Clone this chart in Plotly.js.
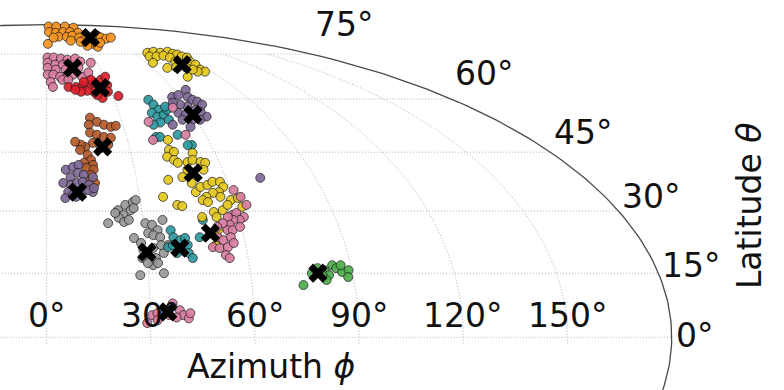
<!DOCTYPE html>
<html>
<head>
<meta charset="utf-8">
<script src="https://cdn.plot.ly/plotly-3.0.1.min.js"></script>
<style>
  html, body { margin: 0; padding: 0; background: #fff; }
  #chart { width: 784px; height: 390px; }
</style>
</head>
<body>
<div id="chart"></div>
<script>
// Tick values in degrees
const azimuthTicks = [0, 30, 60, 90, 120, 150];
const latitudeTicks = [0, 15, 30, 45, 60, 75];

// Cluster members: azimuth phi and latitude theta, degrees
const orangeAz  = [5, 25, 48, 56, 3, 11.5, 22, 31, 40, 43, 12.5, 21, 28, 33, 22, 35.5, 55.5, 55, 58, 65, 38.5, 40, 32.5, 1, 30, 7, 46];
const orangeLat = [88.1, 88.1, 88.1, 87.3, 84.7, 84.3, 84.7, 84.7, 84.3, 83, 82.3, 82.3, 82.8, 81.9, 80.5, 80.9, 82.8, 81.9, 81.4, 81.9, 79.1, 77.9, 78.3, 79.1, 80, 81.9, 79.6];

const pinkTopAz  = [0.5, 4.5, 9, 13, 18, 20.5, 0.5, 5, 9.5, 0.5, 5, 10.5, 18, 0.5, 3.5, 7, 11, 14, 18.5, 22.5, 23, 2, 3, 8, 11, 19, 26.5];
const pinkTopLat = [73.7, 73.7, 73.3, 72.9, 73.3, 72.2, 71.8, 71.1, 71.1, 70, 69.4, 69.4, 70, 67.7, 67.7, 67, 67, 67.7, 67, 68.4, 65.3, 65.3, 63.7, 66, 66, 65, 71.8];

const redAz  = [10.5, 14, 17.5, 20.5, 24, 27.5, 30.5, 29.5, 25.5, 22, 19, 16, 13.5, 25, 23, 32.5, 22.5, 18.5, 28.5];
const redLat = [63.7, 63.7, 64, 64.3, 65, 66, 67, 64.3, 62.8, 62.2, 62.5, 62.2, 62.8, 60.3, 61.2, 60.9, 66, 65.3, 62.2];

const yellowTopAz  = [70, 75.5, 79, 85.5, 86, 88, 88.5, 90.5, 87.5, 87.5, 85.5, 86.5, 67.5, 72, 77.5, 79.5, 78.5, 68.5, 78.5, 79.5, 73.5, 82.5, 81.5, 64, 74];
const yellowTopLat = [75.5, 75.9, 75.5, 75.9, 75.1, 74.8, 74.1, 73.7, 72.2, 71.1, 69.4, 68.7, 74.1, 74.1, 74.4, 73.7, 72.2, 70, 71.1, 70.2, 67, 68.7, 69.4, 71.8, 70.2];

const purpleTopAz  = [56.5, 60, 65.5, 63.5, 64.5, 66, 67, 65, 64, 62.5, 60, 57.5, 55, 54.5, 57, 58.5, 61.5, 54.5, 49.5, 56, 71.5];
const purpleTopLat = [60.6, 61.2, 62.8, 60.6, 59.75, 59.2, 58.3, 54.8, 56.2, 56.8, 57.7, 58.3, 58.9, 55.9, 55.35, 53.9, 53.9, 53.9, 52.5, 51.9, 38.3];

const tealTopAz  = [45, 46, 47, 43.5, 45, 48, 50.5, 45, 42, 49, 50.5, 41, 42.5, 49.5, 53, 51.5];
const tealTopLat = [59.75, 58.3, 56.8, 55.9, 54.8, 55.35, 56.8, 53.1, 52.5, 53.9, 57.7, 49.1, 49.1, 49.7, 46.9, 46.9];

const brownAz  = [17.5, 20, 22.5, 25, 27, 16.5, 16.5, 19, 21.5, 24, 22.5, 19.5, 17, 14, 12.5, 10.5, 12, 14.5, 15.5, 16, 13, 13.5, 16, 15, 14, 16];
const brownLat = [54.5, 53.3, 52.5, 51.9, 52.2, 52.5, 50.3, 49.7, 49.1, 48.9, 47, 46.1, 47.5, 46.4, 47, 47.8, 45.6, 44.3, 42.95, 41.65, 42.2, 40.9, 40.4, 39.1, 37.3, 37];

const purpleLeftAz  = [6.5, 9, 11, 8, 10.5, 12.5, 5.5, 8, 10, 12, 14, 15.5, 15, 7, 6, 8.5, 11.5, 13.5, 9.5, 15.5];
const purpleLeftLat = [40.4, 41.1, 41.65, 38.5, 39.6, 39.1, 37, 36.5, 37, 37.3, 36.5, 38.5, 34.7, 34.7, 33.2, 34, 34.5, 35.2, 33.5, 35.7];

const yellowAz  = [45, 44, 45.5, 42.5, 44.5, 45.5, 49, 52, 51, 53.5, 55, 53.5, 48, 45.5, 40.5, 48, 48.5, 50.5, 53, 55, 57.5, 58, 56, 54, 51.5, 50, 51.5, 56, 59, 61.5, 62, 41.5, 43, 37.5, 52.5, 53, 55.5, 57.5, 48.5, 52.5, 51];
const yellowLat = [48.3, 45.6, 45.1, 43.8, 42.95, 42.2, 42.4, 44.8, 42.95, 42.4, 42.2, 40.4, 40.4, 38.5, 37.8, 37, 34.7, 36, 36.5, 37.3, 37.3, 36, 34.7, 34.5, 33.5, 32.7, 32.2, 33.5, 32.7, 33.2, 31, 31.5, 31.2, 33.5, 29.75, 28.5, 30.2, 31.5, 28.5, 25.3, 21.7];

const pinkAz  = [61, 62.5, 63.5, 58, 59.5, 61.5, 60, 58, 56.5, 56.5, 54.5, 52.5, 55.5, 57, 59.5, 52, 53.5, 56, 50, 52, 54.5, 56.5, 53.5, 54.5, 40.5, 53.5, 39.5, 52.5];
const pinkLat = [35.2, 33.5, 31.5, 29, 29.5, 28.5, 27.8, 27.8, 28.5, 26.6, 27, 26.1, 25.3, 25.3, 26.1, 23.6, 22.9, 23.6, 21.2, 21, 21.2, 22.2, 19.3, 18.6, 53.3, 57.4, 48.3, 49.7];

const tealAz  = [38, 38.5, 40.5, 42, 42.5, 40.5, 39, 42.5, 43.5, 36.5, 38, 48.5, 46.5];
const tealLat = [25.3, 23.6, 22.9, 23.4, 21.7, 20.5, 19.8, 19.8, 18.6, 21.2, 21.7, 27.8, 23.6];

const greyAz  = [22.5, 25, 27.5, 28.5, 26.5, 24, 22.5, 24, 25.5, 19, 27.5, 21.5, 30.5, 32.5, 34, 31, 32.5, 34.5, 36, 36.5, 35, 26.5, 28.5, 29, 32, 34.5, 32.5, 28.5, 27.5, 31.5, 34.5, 33, 30];
const greyLat = [30.2, 31.5, 32.2, 32.7, 30.2, 29, 28.3, 27.3, 27.8, 27, 30.7, 29.5, 27, 26.6, 25.3, 24.6, 24.1, 23.6, 27.8, 21.7, 19.8, 23.4, 22.2, 20.5, 21, 21.7, 18.6, 18.6, 14.55, 16.9, 15, 17.4, 17.4];

const greenAz  = [78, 80, 82, 84.5, 85.5, 87, 89, 88.5, 83, 82, 75, 81, 87];
const greenLat = [15, 16.2, 15.7, 16.9, 16.2, 15.3, 15.7, 14.1, 14.55, 13.4, 12.2, 14.55, 16.9];

const pinkLowAz  = [30.5, 29, 32, 34.5, 36.5, 38.5, 39.5, 41, 41.5, 37.5, 35.5, 32];
const pinkLowLat = [5.15, 3.3, 5.6, 6.3, 7.9, 6.3, 5.15, 4.4, 5.6, 4.6, 5.15, 4.0];

// Cluster centres
const centerAz  = [44.2, 14.7, 25.7, 79.7, 60, 20.3, 10, 49.6, 30, 40, 50, 79.8, 35];
const centerLat = [81.9, 70.0, 63.4, 71.1, 55.35, 46.4, 34.7, 39.6, 20, 21, 24.6, 15, 5.9];

// Mollweide projection, output x in [-2, 2], y in [-1, 1]
function mollweide(lonDeg, latDeg) {
  const phi = latDeg * Math.PI / 180;
  const lam = lonDeg * Math.PI / 180;
  let t = phi;
  if (Math.abs(Math.abs(phi) - Math.PI / 2) > 1e-9) {
    const target = Math.PI * Math.sin(phi);
    for (let i = 0; i < 60; i++) {
      const f = 2 * t + Math.sin(2 * t) - target;
      const d = 2 + 2 * Math.cos(2 * t);
      if (Math.abs(f) < 1e-12 || d < 1e-12) break;
      t -= f / d;
    }
  }
  return [2 * lam / Math.PI * Math.cos(t), Math.sin(t)];
}
function project(lons, lats) {
  const x = [], y = [];
  lons.forEach((lon, i) => {
    if (lon === null) { x.push(null); y.push(null); return; }
    const p = mollweide(lon, lats[i]);
    x.push(p[0]); y.push(p[1]);
  });
  return { x, y };
}
function range(a, b, step) {
  const out = [];
  for (let v = a; v <= b + 1e-9; v += step) out.push(v);
  return out;
}

const traces = [];
const gridStyle = { color: '#b4b4b4', width: 1, dash: '1px,2px' };

// parallels
{
  const lons = [], lats = [];
  latitudeTicks.forEach(lat => {
    range(-180, 180, 10).forEach(l => { lons.push(l); lats.push(lat); });
    lons.push(null); lats.push(null);
  });
  const p = project(lons, lats);
  traces.push({ type: 'scatter', mode: 'lines', x: p.x, y: p.y, line: gridStyle, hoverinfo: 'skip' });
}
// meridians, capped at 75 degrees
{
  const lons = [], lats = [];
  azimuthTicks.forEach(lon => {
    range(-1.5, 75, 1.5).forEach(la => { lons.push(lon); lats.push(la); });
    lons.push(null); lats.push(null);
  });
  const p = project(lons, lats);
  traces.push({ type: 'scatter', mode: 'lines', x: p.x, y: p.y, line: gridStyle, hoverinfo: 'skip' });
}
// map outline
{
  const lons = [], lats = [];
  range(-90, 90, 1).forEach(la => { lons.push(180); lats.push(la); });
  lons.push(null); lats.push(null);
  range(-90, 90, 1).forEach(la => { lons.push(-180); lats.push(la); });
  const p = project(lons, lats);
  traces.push({ type: 'scatter', mode: 'lines', x: p.x, y: p.y, line: { color: '#4a4a4a', width: 1.3 }, hoverinfo: 'skip' });
}

const clusters = [
  [orangeAz, orangeLat, '#f7931e'],
  [pinkTopAz, pinkTopLat, '#d97ca0'],
  [redAz, redLat, '#dc1f2a'],
  [yellowTopAz, yellowTopLat, '#e6c81c'],
  [tealTopAz, tealTopLat, '#2b9aa0'],
  [purpleTopAz, purpleTopLat, '#7d6895'],
  [brownAz, brownLat, '#b5592a'],
  [purpleLeftAz, purpleLeftLat, '#7d6895'],
  [greyAz, greyLat, '#9a9a9a'],
  [tealAz, tealLat, '#2b9aa0'],
  [yellowAz, yellowLat, '#e6c81c'],
  [pinkAz, pinkLat, '#d97ca0'],
  [greenAz, greenLat, '#4caf4a'],
  [pinkLowAz, pinkLowLat, '#d97ca0']
];
clusters.forEach(([az, lat, color]) => {
  const p = project(az, lat);
  traces.push({
    type: 'scatter', mode: 'markers', x: p.x, y: p.y,
    marker: { size: 9, color: color, opacity: 0.92, line: { color: '#1e1e1e', width: 0.8 } },
    hoverinfo: 'skip'
  });
});
{
  const p = project(centerAz, centerLat);
  traces.push({
    type: 'scatter', mode: 'markers', x: p.x, y: p.y,
    marker: { size: 17, symbol: 'x', color: '#000', line: { width: 0 } },
    hoverinfo: 'skip'
  });
}

const tickFont = { family: 'DejaVu Sans', size: 33, color: '#111' };
const annotations = [];
azimuthTicks.forEach(lon => {
  const p = mollweide(lon, 0);
  annotations.push({ x: p[0], y: p[1], xref: 'x', yref: 'y', text: lon + '°', showarrow: false,
    xanchor: 'center', yanchor: 'bottom', yshift: 0, font: tickFont });
});
latitudeTicks.forEach(lat => {
  const p = mollweide(180, lat);
  annotations.push({ x: p[0], y: 1.1 * p[1], xref: 'x', yref: 'y', text: lat + '°', showarrow: false,
    xanchor: 'left', yanchor: 'middle', xshift: 2, yshift: 1.5, font: tickFont });
});
annotations.push({ x: 0.3463, y: 0.0615, xref: 'paper', yref: 'paper', text: 'Azimuth <i>ϕ</i>',
  showarrow: false, xanchor: 'center', yanchor: 'middle', font: tickFont });
annotations.push({ x: 0.956, y: 0.473, xref: 'paper', yref: 'paper', text: 'Latitude <i>θ</i>',
  showarrow: false, xanchor: 'center', yanchor: 'middle', textangle: -90, font: tickFont });

const layout = {
  width: 784, height: 390,
  margin: { l: 0, r: 0, t: 0, b: 0, pad: 0 },
  paper_bgcolor: '#ffffff', plot_bgcolor: '#ffffff',
  showlegend: false,
  xaxis: { range: [-0.14944, 2.35936], visible: false, fixedrange: true },
  yaxis: { range: [-0.16896, 1.07904], visible: false, fixedrange: true },
  annotations: annotations
};

Plotly.newPlot('chart', traces, layout, { displayModeBar: false, staticPlot: true });
</script>
</body>
</html>
